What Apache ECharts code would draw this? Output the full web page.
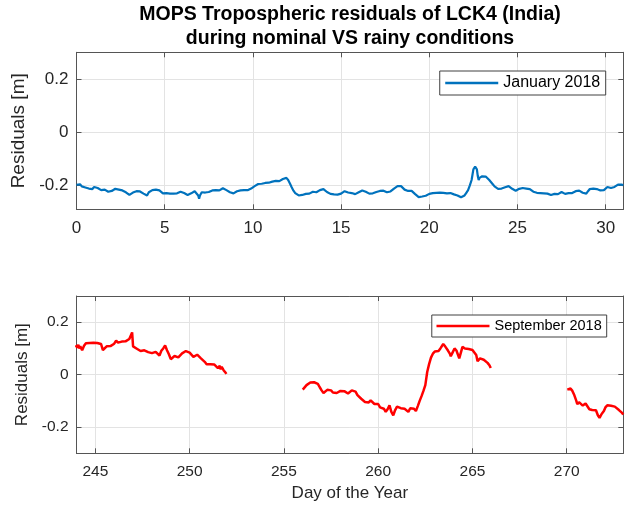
<!DOCTYPE html>
<html><head><meta charset="utf-8">
<script src="https://cdn.jsdelivr.net/npm/echarts@6/dist/echarts.min.js"></script>
<style>html,body{margin:0;padding:0;background:#fff}#c{width:629px;height:505px}</style>
</head><body><div id="c"></div>
<script>
const titleLines = ['MOPS Tropospheric residuals of LCK4 (India)', 'during nominal VS rainy conditions'];
const yAxisName = 'Residuals [m]';
const xAxisName = 'Day of the Year';
const janName = 'January 2018';
const sepName = 'September 2018';
const janXTicks = [0, 5, 10, 15, 20, 25, 30];
const sepXTicks = [245, 250, 255, 260, 265, 270];
const yTicks = [-0.2, 0, 0.2];

// January 2018: [day, residual m]
const janData = [
[0.0,-0.198],[0.1,-0.200],[0.2,-0.196],[0.3,-0.204],[0.4,-0.203],[0.5,-0.208],[0.6,-0.206],[0.7,-0.212],[0.8,-0.210],[0.9,-0.214],
[1.0,-0.206],[1.1,-0.203],[1.2,-0.210],[1.3,-0.214],[1.4,-0.218],[1.5,-0.221],[1.6,-0.216],[1.7,-0.219],[1.8,-0.224],[1.9,-0.226],
[2.0,-0.221],[2.1,-0.217],[2.2,-0.213],[2.3,-0.211],[2.4,-0.216],[2.5,-0.214],[2.6,-0.219],[2.7,-0.222],[2.8,-0.226],[2.9,-0.229],
[3.0,-0.236],[3.1,-0.231],[3.2,-0.227],[3.3,-0.226],[3.4,-0.222],[3.5,-0.220],[3.6,-0.223],[3.7,-0.228],[3.8,-0.231],[3.9,-0.235],
[4.0,-0.238],[4.1,-0.226],[4.2,-0.220],[4.3,-0.218],[4.4,-0.214],[4.5,-0.216],[4.6,-0.213],[4.7,-0.219],[4.8,-0.226],[4.9,-0.230],
[5.0,-0.232],[5.1,-0.229],[5.2,-0.233],[5.3,-0.231],[5.4,-0.234],[5.5,-0.231],[5.6,-0.228],[5.7,-0.230],[5.8,-0.226],[5.9,-0.224],
[6.0,-0.225],[6.1,-0.229],[6.2,-0.232],[6.3,-0.236],[6.4,-0.234],[6.5,-0.230],[6.6,-0.227],[6.7,-0.222],[6.8,-0.221],[6.9,-0.238],
[6.95,-0.250],[7.0,-0.238],[7.1,-0.226],[7.2,-0.224],[7.3,-0.227],[7.4,-0.222],[7.5,-0.225],[7.6,-0.221],[7.7,-0.219],[7.8,-0.222],
[7.9,-0.218],[8.0,-0.215],[8.1,-0.219],[8.2,-0.214],[8.3,-0.211],[8.4,-0.213],[8.5,-0.218],[8.6,-0.222],[8.7,-0.226],[8.8,-0.229],
[8.9,-0.230],[9.0,-0.226],[9.1,-0.222],[9.2,-0.224],[9.3,-0.219],[9.4,-0.217],[9.5,-0.218],[9.6,-0.215],[9.7,-0.218],[9.8,-0.214],
[9.9,-0.212],[10.0,-0.210],[10.1,-0.203],[10.2,-0.197],[10.3,-0.195],[10.4,-0.198],[10.5,-0.194],[10.6,-0.195],[10.7,-0.191],[10.8,-0.193],
[10.9,-0.190],[11.0,-0.188],[11.1,-0.186],[11.2,-0.188],[11.3,-0.183],[11.4,-0.181],[11.5,-0.184],[11.6,-0.178],[11.7,-0.176],[11.8,-0.174],
[11.9,-0.172],[12.0,-0.180],[12.1,-0.193],[12.2,-0.207],[12.3,-0.220],[12.4,-0.229],[12.5,-0.234],[12.6,-0.238],[12.7,-0.240],[12.8,-0.236],
[12.9,-0.238],[13.0,-0.232],[13.1,-0.229],[13.2,-0.231],[13.3,-0.226],[13.4,-0.224],[13.5,-0.222],[13.6,-0.226],[13.7,-0.220],[13.8,-0.218],
[13.9,-0.216],[14.0,-0.214],[14.1,-0.219],[14.2,-0.225],[14.3,-0.230],[14.4,-0.232],[14.5,-0.231],[14.6,-0.234],[14.7,-0.236],[14.8,-0.235],
[14.9,-0.237],[15.0,-0.231],[15.1,-0.224],[15.2,-0.222],[15.3,-0.225],[15.4,-0.227],[15.5,-0.226],[15.6,-0.229],[15.7,-0.231],[15.8,-0.233],
[15.9,-0.231],[16.0,-0.226],[16.1,-0.222],[16.2,-0.219],[16.3,-0.220],[16.4,-0.224],[16.5,-0.228],[16.6,-0.231],[16.7,-0.232],[16.8,-0.230],
[16.9,-0.227],[17.0,-0.225],[17.1,-0.223],[17.2,-0.221],[17.3,-0.222],[17.4,-0.220],[17.5,-0.224],[17.6,-0.226],[17.7,-0.225],[17.8,-0.223],
[17.9,-0.218],[18.0,-0.212],[18.1,-0.206],[18.2,-0.203],[18.3,-0.204],[18.4,-0.203],[18.5,-0.208],[18.6,-0.216],[18.7,-0.222],[18.8,-0.221],
[18.9,-0.219],[19.0,-0.221],[19.1,-0.226],[19.2,-0.233],[19.3,-0.240],[19.4,-0.244],[19.5,-0.245],[19.6,-0.242],[19.7,-0.241],[19.8,-0.239],
[19.9,-0.236],[20.0,-0.232],[20.1,-0.230],[20.2,-0.229],[20.3,-0.231],[20.4,-0.228],[20.5,-0.230],[20.6,-0.227],[20.7,-0.229],[20.8,-0.228],
[20.9,-0.232],[21.0,-0.230],[21.1,-0.231],[21.2,-0.229],[21.3,-0.233],[21.4,-0.234],[21.5,-0.236],[21.6,-0.238],[21.7,-0.242],[21.8,-0.245],
[21.9,-0.247],[22.0,-0.238],[22.1,-0.228],[22.2,-0.218],[22.3,-0.200],[22.4,-0.180],[22.45,-0.160],[22.5,-0.140],[22.6,-0.130],[22.65,-0.128],
[22.7,-0.140],[22.75,-0.165],[22.8,-0.180],[22.85,-0.172],[22.9,-0.168],[23.0,-0.166],[23.1,-0.170],[23.2,-0.167],[23.3,-0.172],[23.4,-0.180],
[23.5,-0.187],[23.6,-0.196],[23.7,-0.204],[23.8,-0.210],[23.9,-0.213],[24.0,-0.211],[24.1,-0.212],[24.2,-0.210],[24.3,-0.207],[24.4,-0.205],
[24.5,-0.203],[24.6,-0.207],[24.7,-0.213],[24.8,-0.218],[24.9,-0.220],[25.0,-0.216],[25.1,-0.213],[25.2,-0.211],[25.3,-0.210],[25.4,-0.213],
[25.5,-0.212],[25.6,-0.215],[25.7,-0.214],[25.8,-0.217],[25.9,-0.224],[26.0,-0.230],[26.1,-0.228],[26.2,-0.226],[26.3,-0.229],[26.4,-0.227],
[26.5,-0.230],[26.6,-0.227],[26.7,-0.231],[26.8,-0.234],[26.9,-0.236],[27.0,-0.237],[27.1,-0.232],[27.2,-0.229],[27.3,-0.233],[27.4,-0.226],
[27.5,-0.225],[27.6,-0.228],[27.7,-0.232],[27.8,-0.227],[27.9,-0.229],[28.0,-0.231],[28.1,-0.229],[28.2,-0.225],[28.3,-0.222],[28.4,-0.219],
[28.5,-0.220],[28.6,-0.224],[28.7,-0.228],[28.8,-0.232],[28.9,-0.231],[29.0,-0.222],[29.1,-0.214],[29.2,-0.210],[29.3,-0.212],[29.4,-0.211],
[29.5,-0.214],[29.6,-0.216],[29.7,-0.219],[29.8,-0.221],[29.9,-0.218],[30.0,-0.213],[30.1,-0.206],[30.2,-0.203],[30.3,-0.210],[30.4,-0.213],
[30.5,-0.206],[30.6,-0.201],[30.7,-0.197],[30.8,-0.199],[30.9,-0.197],[31.0,-0.200]
];

// September 2018, three recorded stretches: [day of year, residual m]
const sepPart1 = [
[243.95,0.112],[244.05,0.103],[244.1,0.114],[244.15,0.100],[244.2,0.108],[244.3,0.093],[244.4,0.110],[244.5,0.120],[244.6,0.118],[244.7,0.121],
[244.8,0.120],[244.9,0.122],[245.0,0.118],[245.1,0.121],[245.2,0.120],[245.3,0.117],[245.35,0.122],[245.4,0.094],[245.5,0.101],[245.6,0.108],
[245.7,0.111],[245.8,0.109],[245.9,0.110],[246.0,0.118],[246.1,0.130],[246.2,0.122],[246.3,0.115],[246.4,0.126],[246.5,0.124],[246.6,0.127],
[246.7,0.125],[246.8,0.136],[246.9,0.140],[246.95,0.161],[247.0,0.108],[247.1,0.103],[247.2,0.099],[247.3,0.096],[247.4,0.090],[247.5,0.097],
[247.6,0.093],[247.7,0.097],[247.8,0.086],[247.9,0.080],[248.0,0.082],[248.1,0.083],[248.2,0.087],[248.3,0.092],[248.4,0.073],[248.5,0.091],
[248.6,0.100],[248.7,0.111],[248.8,0.093],[248.9,0.078],[249.0,0.059],[249.1,0.066],[249.2,0.071],[249.3,0.068],[249.4,0.066],[249.5,0.071],
[249.6,0.081],[249.7,0.088],[249.8,0.090],[249.9,0.087],[250.0,0.084],[250.1,0.078],[250.2,0.068],[250.3,0.072],[250.4,0.076],[250.5,0.070],
[250.6,0.062],[250.7,0.057],[250.8,0.049],[250.9,0.040],[251.0,0.038],[251.1,0.040],[251.2,0.036],[251.3,0.039],[251.4,0.041],[251.5,0.025],
[251.6,0.034],[251.65,0.020],[251.7,0.030],[251.8,0.017],[251.9,0.008],[251.95,0.003]
];
const sepPart2 = [
[256.0,-0.057],[256.1,-0.050],[256.2,-0.040],[256.3,-0.046],[256.4,-0.030],[256.5,-0.027],[256.6,-0.029],[256.7,-0.026],[256.8,-0.035],[256.9,-0.048],
[257.0,-0.060],[257.1,-0.070],[257.2,-0.066],[257.3,-0.058],[257.4,-0.053],[257.5,-0.060],[257.6,-0.068],[257.7,-0.066],[257.8,-0.070],[257.9,-0.064],
[258.0,-0.062],[258.1,-0.066],[258.2,-0.063],[258.3,-0.068],[258.4,-0.072],[258.5,-0.066],[258.6,-0.060],[258.7,-0.057],[258.8,-0.065],[258.9,-0.078],
[259.0,-0.085],[259.1,-0.092],[259.2,-0.098],[259.3,-0.104],[259.4,-0.097],[259.5,-0.106],[259.6,-0.098],[259.7,-0.100],[259.8,-0.112],[259.9,-0.118],
[260.0,-0.112],[260.1,-0.125],[260.2,-0.118],[260.3,-0.130],[260.4,-0.142],[260.5,-0.132],[260.6,-0.117],[260.7,-0.142],[260.8,-0.155],[260.9,-0.135],
[261.0,-0.122],[261.1,-0.118],[261.2,-0.128],[261.3,-0.130],[261.4,-0.130],[261.5,-0.137],[261.6,-0.142],[261.7,-0.128],[261.8,-0.123],[261.9,-0.130],
[262.0,-0.139],[262.1,-0.120],[262.2,-0.100],[262.3,-0.082],[262.4,-0.062],[262.45,-0.055],[262.5,-0.040],[262.6,0.010],[262.7,0.040],[262.8,0.065],
[262.9,0.080],[263.0,0.088],[263.1,0.093],[263.2,0.090],[263.3,0.100],[263.4,0.104],[263.45,0.117],[263.55,0.108],[263.7,0.092],[263.8,0.080],
[263.85,0.070],[263.95,0.085],[264.05,0.100],[264.15,0.092],[264.3,0.062],[264.4,0.088],[264.47,0.106],[264.6,0.100],[264.7,0.094],[264.8,0.098],
[264.9,0.097],[265.0,0.094],[265.1,0.090],[265.2,0.075],[265.27,0.051],[265.4,0.062],[265.5,0.064],[265.6,0.057],[265.7,0.055],[265.8,0.045],
[265.9,0.036],[265.97,0.025]
];
const sepPart3 = [
[270.03,-0.057],[270.1,-0.055],[270.2,-0.053],[270.3,-0.062],[270.4,-0.078],[270.5,-0.098],[270.56,-0.113],[270.65,-0.105],[270.75,-0.108],[270.85,-0.118],
[270.9,-0.117],[271.0,-0.110],[271.1,-0.115],[271.2,-0.132],[271.27,-0.139],[271.35,-0.135],[271.45,-0.133],[271.55,-0.136],[271.65,-0.155],[271.74,-0.165],
[271.85,-0.150],[271.97,-0.139],[272.05,-0.125],[272.15,-0.117],[272.25,-0.120],[272.35,-0.119],[272.45,-0.124],[272.55,-0.122],[272.65,-0.128],[272.77,-0.135],
[272.85,-0.132],[272.92,-0.145],[273.0,-0.152]
];

const FONT = 'Liberation Sans, Arial, Helvetica, sans-serif';
const TXT = '#262626';
const AXC = '#555555';
const GRIDC = '#e3e3e3';

function inList(list, v) { return list.some(t => Math.abs(t - v) < 1e-9); }

function mkX(gi, min, max, ticks, labelSize, main, margin) {
  return {
    type: 'value', gridIndex: gi, position: main ? 'bottom' : 'top',
    min: min, max: max, minInterval: 5, maxInterval: 5,
    axisLine: { show: true, onZero: false, lineStyle: { color: AXC, width: 1 } },
    axisTick: { show: true, inside: true, length: 5, lineStyle: { color: AXC } },
    axisLabel: { show: main, margin: margin || 10, fontSize: labelSize, color: TXT, fontFamily: FONT,
      showMinLabel: true, showMaxLabel: true,
      formatter: v => inList(ticks, v) ? String(v) : '' },
    splitLine: { show: main, lineStyle: { color: GRIDC, width: 1 } }
  };
}
function mkY(gi, min, max, labelSize, main, name, nameSize, nameGap) {
  return {
    type: 'value', gridIndex: gi, position: main ? 'left' : 'right',
    min: min, max: max, minInterval: 0.2, maxInterval: 0.2,
    name: main ? name : '', nameLocation: 'middle', nameGap: nameGap,
    nameTextStyle: { fontSize: nameSize, color: TXT, fontFamily: FONT },
    axisLine: { show: true, onZero: false, lineStyle: { color: AXC, width: 1 } },
    axisTick: { show: true, inside: true, length: 5, lineStyle: { color: AXC } },
    axisLabel: { show: main, margin: 8, fontSize: labelSize, color: TXT, fontFamily: FONT,
      formatter: v => inList(yTicks, v) ? String(v) : '' },
    splitLine: { show: main, lineStyle: { color: GRIDC, width: 1 } }
  };
}

const chart = echarts.init(document.getElementById('c'), null, { renderer: 'canvas' });
const sepStyle = { color: '#ff0000', width: 2.5 };
chart.setOption({
  animation: false,
  backgroundColor: '#ffffff',
  graphic: [
    { type: 'text', x: 350, y: 15, style: { text: titleLines[0], fontSize: 19.5, fontWeight: 'bold', fontFamily: FONT, fill: '#000', textAlign: 'center', textVerticalAlign: 'middle' } },
    { type: 'text', x: 350, y: 39, style: { text: titleLines[1], fontSize: 19.5, fontWeight: 'bold', fontFamily: FONT, fill: '#000', textAlign: 'center', textVerticalAlign: 'middle' } }
  ],
  grid: [
    { left: 76.5, top: 52.3, width: 546.8, height: 157, containLabel: false, outerBoundsMode: 'none' },
    { left: 76.5, top: 296, width: 546.8, height: 157.3, containLabel: false, outerBoundsMode: 'none' }
  ],
  xAxis: [
    mkX(0, 0, 31, janXTicks, 17, true, 11),
    mkX(0, 0, 31, janXTicks, 17, false),
    Object.assign(mkX(1, 244, 273, sepXTicks, 15.5, true, 10), {
      name: xAxisName, nameLocation: 'middle', nameGap: 32,
      nameTextStyle: { fontSize: 17, color: TXT, fontFamily: FONT, verticalAlign: 'top' } }),
    mkX(1, 244, 273, sepXTicks, 15.5, false)
  ],
  yAxis: [
    mkY(0, -0.29, 0.3, 17, true, yAxisName, 19, 40),
    mkY(0, -0.29, 0.3, 17, false),
    mkY(1, -0.3, 0.3, 15.5, true, yAxisName, 17, 36),
    mkY(1, -0.3, 0.3, 15.5, false)
  ],
  legend: [
    { data: [janName], right: 23.3, top: 71, orient: 'horizontal', icon: 'rect', itemWidth: 53, itemHeight: 2.5,
      padding: [4, 5.5, 4, 5.5], borderColor: '#404040', borderWidth: 1, backgroundColor: '#fff', borderRadius: 0,
      textStyle: { fontSize: 16, color: '#000', fontFamily: FONT }, selectedMode: false },
    { data: [sepName], right: 22.3, top: 315, orient: 'horizontal', icon: 'rect', itemWidth: 53, itemHeight: 2.5,
      padding: [3.5, 5, 3.5, 4.7], borderColor: '#404040', borderWidth: 1, backgroundColor: '#fff', borderRadius: 0,
      textStyle: { fontSize: 14.5, color: '#000', fontFamily: FONT }, selectedMode: false }
  ],
  series: [
    { name: janName, type: 'line', xAxisIndex: 0, yAxisIndex: 0, data: janData, showSymbol: false, symbol: 'none',
      lineStyle: { color: '#0072bd', width: 2.2 }, itemStyle: { color: '#0072bd' }, clip: true },
    { name: sepName, type: 'line', xAxisIndex: 2, yAxisIndex: 2, data: sepPart1, showSymbol: false, symbol: 'none',
      lineStyle: sepStyle, itemStyle: { color: '#ff0000' }, clip: true },
    { name: sepName, type: 'line', xAxisIndex: 2, yAxisIndex: 2, data: sepPart2, showSymbol: false, symbol: 'none',
      lineStyle: sepStyle, itemStyle: { color: '#ff0000' }, clip: true },
    { name: sepName, type: 'line', xAxisIndex: 2, yAxisIndex: 2, data: sepPart3, showSymbol: false, symbol: 'none',
      lineStyle: sepStyle, itemStyle: { color: '#ff0000' }, clip: true }
  ]
});
</script></body></html>
